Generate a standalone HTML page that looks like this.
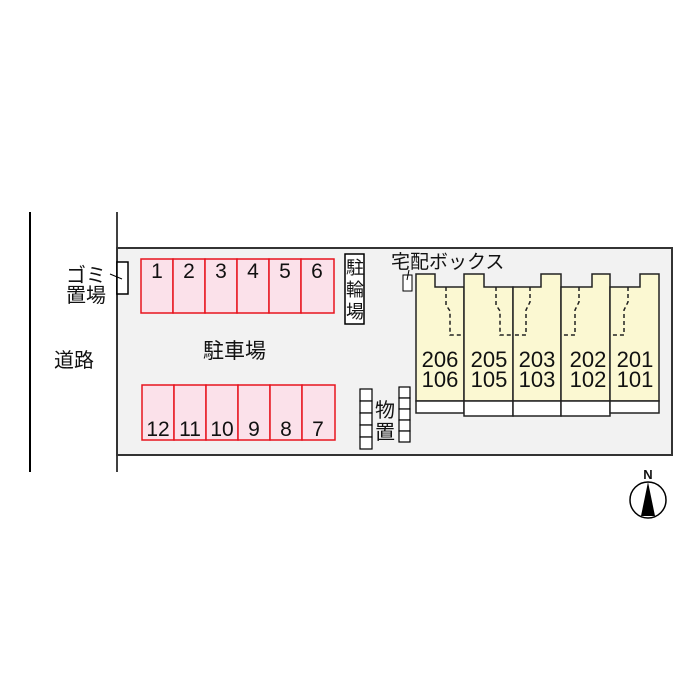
<!DOCTYPE html><html><head><style>body{margin:0;background:#fff}svg{display:block}text{font-family:"Liberation Sans","Noto Sans CJK JP",sans-serif;fill:#111}</style></head><body>
<svg width="700" height="700" viewBox="0 0 700 700">
<line x1="30" y1="212" x2="30" y2="472" stroke="#000" stroke-width="2"/>
<line x1="117" y1="212" x2="117" y2="472" stroke="#000" stroke-width="1.5"/>
<rect x="117" y="248" width="555" height="207" fill="#f2f2f2" stroke="#333" stroke-width="2"/>
<rect x="117" y="262" width="11" height="32" fill="#fff" stroke="#000" stroke-width="1.5"/>
<line x1="110" y1="274" x2="122" y2="279" stroke="#000"/>
<text x="66" y="282" font-size="20">ゴミ</text><text x="66" y="302" font-size="20">置場</text>
<text x="54" y="367" font-size="20">道路</text>
<text x="203" y="358" font-size="21">駐車場</text>
<g fill="#fbe1ea" stroke="#e8141e" stroke-width="1.5">
<rect x="141" y="259" width="32" height="54"/><rect x="173" y="259" width="32" height="54"/><rect x="205" y="259" width="32" height="54"/><rect x="237" y="259" width="32" height="54"/><rect x="269" y="259" width="32" height="54"/><rect x="301" y="259" width="33" height="54"/>
<rect x="142" y="385" width="32" height="55"/><rect x="174" y="385" width="32" height="55"/><rect x="206" y="385" width="32" height="55"/><rect x="238" y="385" width="32" height="55"/><rect x="270" y="385" width="32" height="55"/><rect x="302" y="385" width="33" height="55"/>
</g>
<g font-size="21" text-anchor="middle">
<text x="157" y="278">1</text><text x="189" y="278">2</text><text x="221" y="278">3</text><text x="253" y="278">4</text><text x="285" y="278">5</text><text x="317" y="278">6</text>
<text x="158" y="436">12</text><text x="190" y="436">11</text><text x="222" y="436">10</text><text x="254" y="436">9</text><text x="286" y="436">8</text><text x="318" y="436">7</text>
</g>
<rect x="345" y="254" width="19" height="70" fill="#fff" stroke="#000" stroke-width="1.5"/>
<g font-size="18" text-anchor="middle"><text x="355" y="274">駐</text><text x="355" y="296">輪</text><text x="355" y="318">場</text></g>
<text x="391" y="268" font-size="19">宅配ボックス</text>
<rect x="403" y="275" width="9" height="16" fill="#fff" stroke="#000"/>
<line x1="407" y1="280" x2="409" y2="270" stroke="#000"/>
<g fill="#fff" stroke="#000" stroke-width="1.2">
<rect x="360" y="389" width="12" height="12"/><rect x="360" y="401" width="12" height="12"/><rect x="360" y="413" width="12" height="12"/><rect x="360" y="425" width="12" height="12"/><rect x="360" y="437" width="12" height="12"/>
<rect x="399" y="387" width="11" height="11"/><rect x="399" y="398" width="11" height="11"/><rect x="399" y="409" width="11" height="11"/><rect x="399" y="420" width="11" height="11"/><rect x="399" y="431" width="11" height="11"/>
</g>
<g font-size="20" text-anchor="middle"><text x="385" y="417">物</text><text x="385" y="439">置</text></g>
<g fill="#fbf8d2" stroke="#222" stroke-width="1.5">
<path d="M416 401V274H435V287H464V401Z"/>
<path d="M464 401V274H484V287H513V401Z"/>
<path d="M513 401V287H541V274H561V401Z"/>
<path d="M561 401V287H592V274H610V401Z"/>
<path d="M610 401V287H640V274H659V401Z"/>
</g>
<g fill="#fff" stroke="#222" stroke-width="1.5">
<rect x="416" y="401" width="48" height="12"/><rect x="464" y="401" width="49" height="15"/><rect x="513" y="401" width="48" height="15"/><rect x="561" y="401" width="49" height="15"/><rect x="610" y="401" width="49" height="12"/>
</g>
<g fill="none" stroke="#222" stroke-width="1.5" stroke-dasharray="4,3">
<path d="M446 287V305L450 311V335H464"/>
<path d="M496 287V305L500 311V335H513"/>
<path d="M530 287V302L526 310V335H513"/>
<path d="M579 287V302L575 310V335H561"/>
<path d="M628 287V302L624 310V335H610"/>
</g>
<g font-size="22" text-anchor="middle">
<text x="440" y="367">206</text><text x="440" y="387">106</text>
<text x="489" y="367">205</text><text x="489" y="387">105</text>
<text x="537" y="367">203</text><text x="537" y="387">103</text>
<text x="588" y="367">202</text><text x="588" y="387">102</text>
<text x="635" y="367">201</text><text x="635" y="387">101</text>
</g>
<text x="648" y="479" font-size="13" font-weight="bold" text-anchor="middle">N</text>
<circle cx="648" cy="500" r="18" fill="#fff" stroke="#000" stroke-width="1.5"/>
<path d="M648 482L641 516H655Z" fill="#000"/>
</svg></body></html>
